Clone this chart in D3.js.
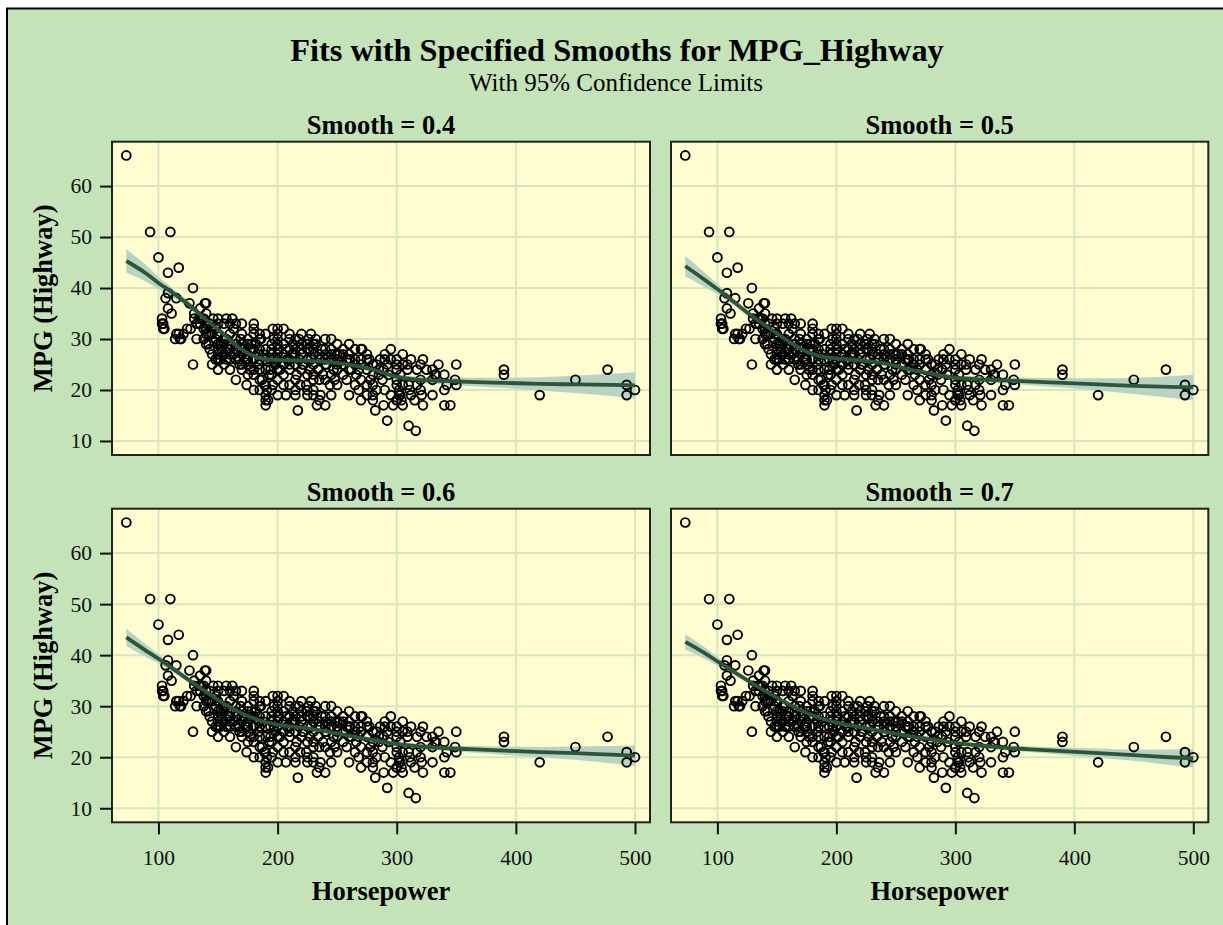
<!DOCTYPE html>
<html><head><meta charset="utf-8">
<script src="https://cdn.jsdelivr.net/npm/d3@7/dist/d3.min.js"></script>
<style>body{margin:0;background:#fff}svg{display:block}</style>
</head><body><svg id="chart" width="1223" height="925"></svg>
<script>
// ---------- data ----------
const horsepower = [73,93,110,100,108,117,108,115,106,108,111,129,126,140,135,103,103,104,104,105,114,115,117,118,121,119,124,129,138,
130,130,132,134,136,138,139,140,140,140,140,142,143,143,145,145,146,148,148,149,150,150,150,150,150,152,152,153,155,155,155,155,157,157,157,158,
160,160,160,160,162,163,163,165,165,165,165,166,168,168,169,170,170,170,170,172,173,174,174,175,175,175,176,177,177,178,180,180,180,180,180,180,180,
182,184,184,185,185,185,186,187,188,189,190,190,190,190,190,191,192,193,194,194,195,195,196,197,197,198,200,200,200,200,200,200,200,200,201,202,
205,205,205,207,207,208,210,210,210,210,212,213,213,215,215,215,216,217,218,218,219,220,220,220,221,222,224,224,225,225,225,226,227,227,228,230,230,230,230,230,230,232,233,234,235,236,236,237,240,240,240,240,
241,244,245,245,247,248,250,250,250,252,255,255,258,260,261,262,265,265,266,268,270,270,271,275,275,275,275,
277,280,280,282,283,283,285,286,289,289,290,292,292,293,295,295,297,300,300,300,300,300,302,302,303,303,304,305,305,309,309,
310,311,312,312,316,317,317,320,321,322,322,325,330,330,332,333,340,340,340,342,345,349,350,350,
390,390,420,450,477,493,493,500,
160,165,170,175,185,195,200,210,215,220,225,230,235,240,245,250,255,260,265,270,280,285,300,210,205,195,190,180,170,160,150,145,155,165,150,148,142,138,175,185,195,205,215,225,235,245,255,265,270,280,290,300,310,320,330,240,250,260,270,280,295,305,315,225,215,235,245,200,190,185,228,220,210,232,245,260,150,140,132,127,135,170,160,185,190,196,205,215,240,250,260,275,290,305,320,335,230,238,248,258,268,278,288];
const mpgHighway = [66,51,51,46,43,44,39,38,38,36,35,40,37,37,36,34,33,33,32,32,30,31,31,30,31,30,32,25,30,
34,35,33,34,34,32,37,35,33,32,29,29,33,28,27,31,34,26,30,31,24,27,29,31,33,29,26,28,33,30,27,25,34,30,26,28,
24,27,29,31,34,32,27,29,22,26,30,28,26,25,30,27,29,31,24,28,26,21,26,27,30,23,25,24,28,29,20,23,31,32,33,26,28,
29,27,25,24,28,26,30,22,27,21,17,18,19,26,28,20,18,23,24,26,27,29,21,26,30,25,22,24,27,29,31,32,28,26,28,24,
25,29,27,19,28,26,21,24,26,30,27,27,29,25,28,22,23,16,30,26,21,27,24,29,25,25,21,29,26,28,23,30,24,28,26,19,20,22,25,27,28,29,17,24,26,19,26,28,17,25,30,27,
25,21,26,28,24,27,29,25,26,27,25,28,26,26,26,24,28,25,23,20,28,26,28,19,21,24,26,
26,19,23,16,20,25,23,26,17,24,26,14,25,23,28,26,17,18,21,24,26,18,19,20,23,19,18,17,25,25,24,
13,20,19,26,12,21,24,22,19,17,26,24,22,24,23,23,17,20,23,21,17,22,21,25,
24,23,19,22,24,21,19,20,
28,28,28,29,30,28,30,28,30,28,29,29,27,28,27,27,27,27,26,25,25,24,25,25,23,23,24,24,25,26,26,25,29,33,34,32,31,34,26,22,20,21,20,20,22,23,23,21,22,21,20,22,21,20,19,22,21,19,18,18,19,21,18,19,19,18,19,19,21,20,31,31,31,30,30,29,28,31,30,32,33,33,33,31,31,32,32,27,26,24,24,27,27,27,25,25,23,23,22,22,24,22,22];

const smoothLabels = ["0.4","0.5","0.6","0.7"];
const fitHp  = [73,90,100,110,125,140,155,170,185,200,220,240,260,280,300,320,340,360,390,420,450,480,500];
const fit04  = [45.3,42.8,41.0,39.4,36.8,33.8,30.9,27.9,26.3,25.9,25.8,25.5,25.0,24.0,22.6,22.0,21.8,21.6,21.4,21.2,21.1,21.0,20.9];
const ci04   = [2.3,1.6,1.2,0.9,0.7,0.6,0.6,0.55,0.5,0.5,0.5,0.5,0.5,0.5,0.55,0.6,0.7,0.8,1.0,1.3,1.7,2.2,2.6];
const fit05  = [44.3,41.5,39.8,38.0,35.2,32.7,30.3,28.1,26.7,26.2,25.8,25.2,24.1,23.2,22.4,22.1,21.9,21.7,21.4,21.1,20.8,20.6,20.5];
const ci05   = [2.0,1.4,1.0,0.8,0.6,0.55,0.5,0.5,0.5,0.45,0.45,0.45,0.45,0.45,0.5,0.55,0.6,0.7,0.9,1.2,1.6,2.1,2.5];
const fit06  = [43.5,40.8,39.3,37.7,35.2,32.8,30.5,28.6,27.2,26.4,25.8,25.1,24.2,23.4,22.6,22.1,21.8,21.6,21.3,21.0,20.8,20.5,20.3];
const ci06   = [1.7,1.2,0.9,0.7,0.55,0.5,0.45,0.45,0.45,0.4,0.4,0.4,0.4,0.4,0.45,0.5,0.55,0.6,0.8,1.0,1.3,1.7,2.0];
const fit07  = [42.6,40.3,38.8,37.3,35.1,33.0,31.0,29.2,27.8,26.8,25.9,25.0,24.2,23.5,22.8,22.3,21.9,21.6,21.2,20.8,20.4,20.0,19.8];
const ci07   = [1.5,1.1,0.85,0.65,0.5,0.45,0.4,0.4,0.4,0.4,0.4,0.4,0.4,0.4,0.4,0.45,0.5,0.55,0.7,0.9,1.1,1.5,1.8];
const xTicks = [100,200,300,400,500];
const yTicks = [10,20,30,40,50,60];
const titleText = "Fits with Specified Smooths for MPG_Highway";
const subtitleText = "With 95% Confidence Limits";
const xLabel = "Horsepower";
const yLabel = "MPG (Highway)";

// ---------- drawing ----------
const fits = [fit04, fit05, fit06, fit07];
const cis = [ci04, ci05, ci06, ci07];
const points = horsepower.map((h, i) => [h, mpgHighway[i]]);

const C = {bg:"#c4e3b9", panel:"#fffdd0", grid:"#d7e6c1", band:"#b8d3c3", line:"#2d5638", frame:"#222"};
const FONT = "'Liberation Serif','Times New Roman',serif";
const svg = d3.select("#chart");

svg.append("rect").attr("x",7).attr("y",8.5).attr("width",1240).attr("height",940)
  .attr("fill",C.bg).attr("stroke","#000").attr("stroke-width",2);

svg.append("text").attr("x",617).attr("y",61).attr("text-anchor","middle")
  .attr("font-family",FONT).attr("font-weight","bold").attr("font-size",32.3).text(titleText);
svg.append("text").attr("x",616).attr("y",91).attr("text-anchor","middle")
  .attr("font-family",FONT).attr("font-size",25).text(subtitleText);

const colX = [[112,650],[671,1208.3]];
const rowY = [[141.7,455],[508.7,822.3]];

smoothLabels.forEach((lab, k) => {
  const r = Math.floor(k/2), c = k%2;
  const [x0,x1] = colX[c], [y0,y1] = rowY[r];
  const x = d3.scaleLinear().domain([61,512.6]).range([x0,x1]);
  const y = d3.scaleLinear().domain([7.25,68.7]).range([y1,y0]);
  const g = svg.append("g");
  const clipId = "clip"+k;
  g.append("clipPath").attr("id",clipId).append("rect")
    .attr("x",x0).attr("y",y0).attr("width",x1-x0).attr("height",y1-y0);

  g.append("rect").attr("x",x0).attr("y",y0).attr("width",x1-x0).attr("height",y1-y0).attr("fill",C.panel);
  g.selectAll(".gx").data(xTicks).join("line")
    .attr("x1",d=>x(d)).attr("x2",d=>x(d)).attr("y1",y0).attr("y2",y1)
    .attr("stroke",C.grid).attr("stroke-width",2);
  g.selectAll(".gy").data(yTicks).join("line")
    .attr("y1",d=>y(d)).attr("y2",d=>y(d)).attr("x1",x0).attr("x2",x1)
    .attr("stroke",C.grid).attr("stroke-width",2);

  const fit = fits[k], ci = cis[k];
  const bandData = fitHp.map((h,i)=>({h, lo:fit[i]-ci[i], hi:fit[i]+ci[i], f:fit[i]}));
  const inner = g.append("g").attr("clip-path",`url(#${clipId})`);
  inner.append("path").datum(bandData)
    .attr("d", d3.area().x(d=>x(d.h)).y0(d=>y(d.lo)).y1(d=>y(d.hi)).curve(d3.curveMonotoneX))
    .attr("fill",C.band);
  inner.selectAll("circle").data(points).join("circle")
    .attr("cx",d=>x(d[0])).attr("cy",d=>y(d[1])).attr("r",4.4)
    .attr("fill","none").attr("stroke","#000").attr("stroke-width",1.9);
  inner.append("path").datum(bandData)
    .attr("d", d3.line().x(d=>x(d.h)).y(d=>y(d.f)).curve(d3.curveMonotoneX))
    .attr("fill","none").attr("stroke",C.line).attr("stroke-width",3.8);

  g.append("rect").attr("x",x0).attr("y",y0).attr("width",x1-x0).attr("height",y1-y0)
    .attr("fill","none").attr("stroke",C.frame).attr("stroke-width",2);

  svg.append("text").attr("x",(x0+x1)/2).attr("y",y0-8).attr("text-anchor","middle")
    .attr("font-family",FONT).attr("font-weight","bold").attr("font-size",26.5)
    .text("Smooth = " + lab);

  if (c === 0) {
    const ax = svg.append("g").attr("transform",`translate(${x0},0)`)
      .call(d3.axisLeft(y).tickValues(yTicks).tickSize(12).tickPadding(8).tickFormat(d3.format("d")));
    ax.select(".domain").remove();
    ax.selectAll("line").attr("stroke","#111").attr("stroke-width",2);
    ax.selectAll("text").attr("font-family",FONT).attr("font-size",21.5).attr("fill","#111");
    svg.append("text").attr("transform",`translate(52,${(y0+y1)/2}) rotate(-90)`)
      .attr("text-anchor","middle").attr("font-family",FONT).attr("font-weight","bold")
      .attr("font-size",26.5).text(yLabel);
  }
  if (r === 1) {
    const ax = svg.append("g").attr("transform",`translate(0,${y1})`)
      .call(d3.axisBottom(x).tickValues(xTicks).tickSize(12).tickPadding(15).tickFormat(d3.format("d")));
    ax.select(".domain").remove();
    ax.selectAll("line").attr("stroke","#111").attr("stroke-width",2);
    ax.selectAll("text").attr("font-family",FONT).attr("font-size",21.5).attr("fill","#111");
    svg.append("text").attr("x",(x0+x1)/2).attr("y",900).attr("text-anchor","middle")
      .attr("font-family",FONT).attr("font-weight","bold").attr("font-size",26.5).text(xLabel);
  }
});
</script></body></html>
